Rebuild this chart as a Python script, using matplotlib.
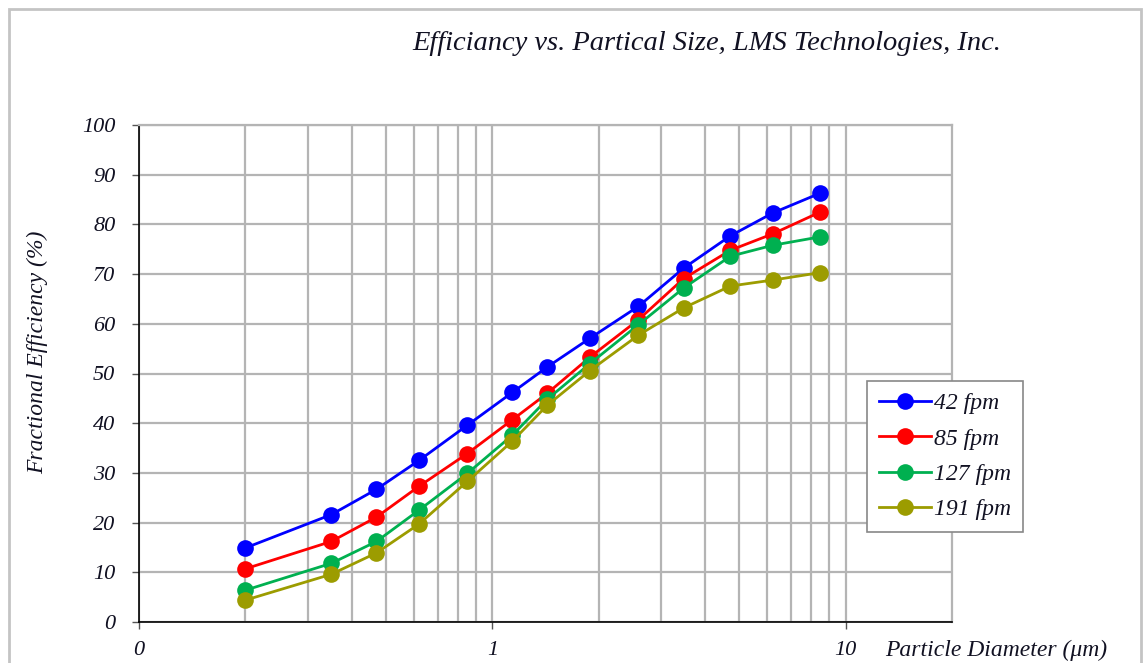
import numpy as np
import matplotlib
matplotlib.use('Agg')
import matplotlib.pyplot as plt
from matplotlib.ticker import FixedLocator, NullFormatter
from matplotlib.patches import Rectangle

###############################################################################
# Data
###############################################################################
DIAM = [0.20, 0.35, 0.47, 0.62, 0.85, 1.14, 1.43, 1.89, 2.59, 3.48, 4.72, 6.22, 8.48]
EFF_42 = [14.9, 21.6, 26.7, 32.5, 39.6, 46.2, 51.3, 57.1, 63.5, 71.2, 77.7, 82.3, 86.3]
EFF_85 = [10.7, 16.2, 21.1, 27.3, 33.9, 40.7, 46.0, 53.3, 60.8, 69.1, 74.8, 78.1, 82.5]
EFF_127 = [6.4, 11.8, 16.2, 22.5, 29.9, 37.6, 44.8, 52.0, 59.8, 67.2, 73.6, 75.8, 77.5]
EFF_191 = [4.4, 9.6, 13.9, 19.7, 28.3, 36.4, 43.6, 50.6, 57.7, 63.2, 67.6, 68.8, 70.3]
LABELS = ['42 fpm', '85 fpm', '127 fpm', '191 fpm']
COLS = ['#0000FF', '#FF0000', '#00B050', '#9C9C00']
X_TICKS = [0.1, 1, 10]
X_TICKLABELS = ['0', '1', '10']
Y_TICKS = list(range(0, 101, 10))
###############################################################################
# Plot
###############################################################################
FONT = 'Liberation Serif'
plt.rcParams['font.family'] = [FONT, 'DejaVu Serif']
plt.rcParams['font.style'] = 'italic'
TXT = '#111122'

(W, H) = (1144, 663)
fig = plt.figure(figsize=(W/100, H/100), dpi=100)
fig.patch.set_facecolor('white')
ax = fig.add_axes([139/W, 1-622/H, (952-139)/W, (622-125)/H])

for (ys, lab, col) in zip((EFF_42, EFF_85, EFF_127, EFF_191), LABELS, COLS):
    ax.plot(DIAM, ys, color=col, lw=2.0, marker='o', ms=12,
            markeredgewidth=0, label=lab, zorder=3)

ax.set_xscale('log')
ax.set_xlim(0.1, 20)
ax.set_ylim(0, 100)
ax.xaxis.set_major_locator(FixedLocator(X_TICKS))
ax.set_xticklabels(X_TICKLABELS)
minors = [m*d for d in (0.1, 1) for m in range(2, 10)]
ax.xaxis.set_minor_locator(FixedLocator(minors))
ax.xaxis.set_minor_formatter(NullFormatter())
ax.set_yticks(Y_TICKS)
ax.set_yticklabels([str(v) for v in Y_TICKS])

ax.grid(True, which='both', axis='x', color='#b4b4b4', lw=1.6, zorder=0)
ax.grid(True, which='major', axis='y', color='#b4b4b4', lw=1.6, zorder=0)
ax.set_axisbelow(True)
ax.tick_params(axis='both', which='major', direction='out', length=5,
               width=1, color='#555555', labelsize=16, labelcolor=TXT)
ax.tick_params(axis='x', which='major', pad=9)
ax.tick_params(axis='y', which='major', pad=12)
ax.tick_params(axis='x', which='minor', length=0)
for sp in ('top', 'right'):
    ax.spines[sp].set_color('#b4b4b4')
    ax.spines[sp].set_linewidth(1.6)
for sp in ('left', 'bottom'):
    ax.spines[sp].set_color('black')
    ax.spines[sp].set_linewidth(1.2)

leg = ax.legend(loc='upper left', bbox_to_anchor=(867/W, 1-381/H),
                bbox_transform=fig.transFigure, fontsize=17, frameon=True,
                fancybox=False, framealpha=1, edgecolor='#888888',
                borderpad=0.5, labelspacing=0.58, handlelength=2.2,
                handletextpad=0.15, borderaxespad=0)
leg.get_frame().set_linewidth(1.2)
for t in leg.get_texts():
    t.set_color(TXT)

fig.text(707/W, 1-43/H, 'Efficiancy vs. Partical Size, LMS Technologies, Inc.',
         ha='center', va='center', fontsize=20.5, color=TXT)
fig.text(38/W, 1-352/H, 'Fractional Efficiency (%)', rotation=90,
         ha='center', va='center', fontsize=17, color=TXT)
fig.text(885/W, 1-650/H, 'Particle Diameter (\u03bcm)',
         ha='left', va='center', fontsize=17, color=TXT)

fig.patches.append(Rectangle((9/W, -0.1), (1141-9)/W, 1.1-9/H, fill=False,
                             edgecolor='#c4c4c4', lw=2,
                             transform=fig.transFigure))

plt.savefig('out.png', dpi=100, facecolor='white')
plt.close('all')
